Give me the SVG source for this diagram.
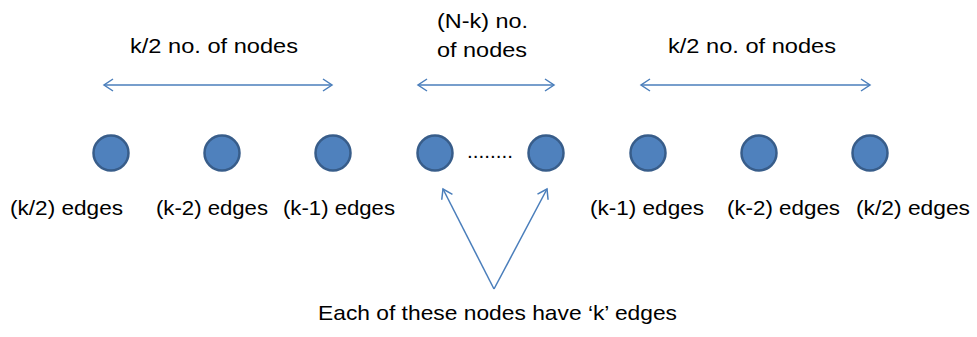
<svg xmlns="http://www.w3.org/2000/svg" width="977" height="337" viewBox="0 0 977 337">
<defs>
<marker id="ah" markerWidth="12" markerHeight="14" refX="10" refY="7" orient="auto-start-reverse" markerUnits="userSpaceOnUse">
<path d="M1,1 L10,7 L1,13" fill="none" stroke="#4A7EBB" stroke-width="1.5"/>
</marker>
</defs>
<style>
.n{fill:#4F81BD;stroke:#385D8A;stroke-width:2.5}
.t{font-family:"Liberation Sans",Arial,sans-serif;font-size:21px;fill:#000}
.c{stroke:#4A7EBB;stroke-width:1.5;fill:none}
</style>
<rect width="977" height="337" fill="#fff"/>
<g id="connectors">
<line class="c" x1="104" y1="85" x2="332" y2="85" marker-start="url(#ah)" marker-end="url(#ah)"/>
<line class="c" x1="418" y1="85" x2="554" y2="85" marker-start="url(#ah)" marker-end="url(#ah)"/>
<line class="c" x1="641" y1="85" x2="870" y2="85" marker-start="url(#ah)" marker-end="url(#ah)"/>
<line class="c" x1="494" y1="289" x2="443" y2="189" marker-end="url(#ah)"/>
<line class="c" x1="494" y1="289" x2="547" y2="189" marker-end="url(#ah)"/>
</g>
<g id="labels-top">
<text class="t" x="130" y="53" textLength="168" lengthAdjust="spacingAndGlyphs">k/2 no. of nodes</text>
<text class="t" x="437" y="28" textLength="91" lengthAdjust="spacingAndGlyphs">(N-k) no.</text>
<text class="t" x="437" y="57" textLength="90" lengthAdjust="spacingAndGlyphs">of nodes</text>
<text class="t" x="668" y="53" textLength="168" lengthAdjust="spacingAndGlyphs">k/2 no. of nodes</text>
</g>
<g id="node1"><circle class="n" cx="111" cy="153" r="17.5"/><text class="t" x="10" y="215" textLength="113" lengthAdjust="spacingAndGlyphs">(k/2) edges</text></g>
<g id="node2"><circle class="n" cx="222" cy="153" r="17.5"/><text class="t" x="156" y="215" textLength="112" lengthAdjust="spacingAndGlyphs">(k-2) edges</text></g>
<g id="node3"><circle class="n" cx="333" cy="153" r="17.5"/><text class="t" x="283" y="215" textLength="112" lengthAdjust="spacingAndGlyphs">(k-1) edges</text></g>
<g id="node4"><circle class="n" cx="435" cy="153" r="17.5"/></g>
<g id="dots"><text class="t" x="467" y="158" textLength="46" lengthAdjust="spacingAndGlyphs">........</text></g>
<g id="node5"><circle class="n" cx="546" cy="153" r="17.5"/></g>
<g id="node6"><circle class="n" cx="648" cy="153" r="17.5"/><text class="t" x="590" y="215" textLength="114" lengthAdjust="spacingAndGlyphs">(k-1) edges</text></g>
<g id="node7"><circle class="n" cx="759" cy="153" r="17.5"/><text class="t" x="727" y="215" textLength="113" lengthAdjust="spacingAndGlyphs">(k-2) edges</text></g>
<g id="node8"><circle class="n" cx="870" cy="153" r="17.5"/><text class="t" x="856" y="215" textLength="114" lengthAdjust="spacingAndGlyphs">(k/2) edges</text></g>
<g id="caption"><text class="t" x="318" y="320" textLength="359" lengthAdjust="spacingAndGlyphs">Each of these nodes have ‘k’ edges</text></g>
</svg>
